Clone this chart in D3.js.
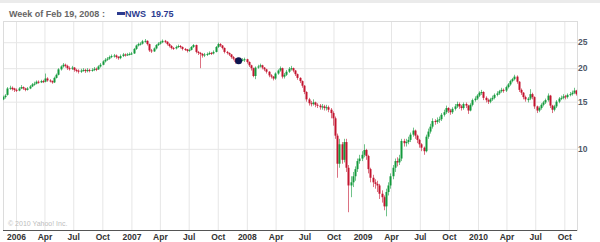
<!DOCTYPE html>
<html lang="en">
  <head>
    <style>
      body { margin: 0; background: #fff; }
      text { font-family: "Liberation Sans", Arial, sans-serif; }
      .xlab text { font-size: 8.5px; font-weight: bold; fill: #333; }
      .ylab text { font-size: 8.5px; font-weight: bold; fill: #4f5868; }
      .grid line { stroke: #e6e6e6; }
      .grid path, .xlab path, .ylab path { display: none; }
    </style>
    <script src="https://d3js.org/d3.v7.min.js"></script>
  </head>
  <body>
    <svg width="600" height="242"></svg>
    <script>
      // weekly candles, first one is the week of Nov 21 2005
      const firstWeek = "2005-11-21";
      // [open, high, low, close]
      const ohlc = [
        [15.3,15.8,15.2,15.6],[15.6,16.0,15.4,15.8],[15.9,17.0,15.8,16.8],[16.8,17.2,16.6,16.9],[16.9,17.1,16.5,16.7],
        [16.8,16.9,16.3,16.6],[16.6,16.8,16.3,16.5],[16.5,17.0,16.4,16.8],[16.8,17.3,16.7,17.0],[17.0,17.1,16.6,16.8],
        [16.8,16.9,16.4,16.6],[16.6,17.0,16.5,16.8],[16.8,17.3,16.7,17.1],[17.1,17.6,17.0,17.4],[17.4,17.8,17.2,17.5],
        [17.5,18.0,17.4,17.8],[17.8,18.0,17.5,17.7],[17.7,18.1,17.6,17.9],[17.9,18.1,17.6,17.8],[17.8,19.1,17.7,18.3],
        [18.3,18.5,17.8,18.0],[18.0,18.2,17.7,17.9],[17.9,18.0,17.5,17.7],[17.7,18.6,17.6,18.4],[18.4,19.1,18.3,18.9],
        [18.9,20.0,18.8,19.8],[19.8,20.5,19.6,20.3],[20.3,20.9,20.1,20.6],[20.6,20.8,20.1,20.4],[20.4,20.6,19.7,20.0],
        [20.0,20.3,19.6,19.9],[19.9,20.4,19.7,20.1],[20.1,20.2,19.4,19.7],[19.7,19.9,19.3,19.6],[19.6,19.8,19.1,19.4],
        [19.4,19.9,19.2,19.6],[19.6,20.0,19.4,19.7],[19.7,19.9,19.2,19.5],[19.5,20.0,19.3,19.7],[19.7,19.9,19.3,19.6],
        [19.6,20.0,19.4,19.7],[19.7,20.2,19.5,19.9],[19.9,20.1,19.5,19.8],[19.8,20.5,19.7,20.3],[20.3,20.9,20.1,20.6],
        [20.6,21.4,20.5,21.2],[21.2,21.8,21.0,21.5],[21.5,22.0,21.3,21.7],[21.7,22.3,21.5,22.0],[22.0,22.5,21.8,22.2],
        [22.2,22.6,21.9,22.3],[22.3,22.5,21.7,22.0],[22.0,22.2,21.5,21.8],[21.8,22.5,21.6,22.2],[22.2,22.8,22.0,22.5],
        [22.5,22.7,22.1,22.4],[22.4,22.8,22.2,22.5],[22.5,22.9,22.3,22.6],[22.6,23.0,22.4,22.7],[22.7,23.8,22.6,23.6],
        [23.6,24.5,23.4,24.3],[24.3,24.9,24.1,24.6],[24.6,25.0,24.3,24.7],[24.7,25.5,24.5,25.2],[25.2,25.7,24.9,25.3],
        [25.3,25.4,24.3,24.6],[24.6,24.7,23.0,23.3],[23.3,23.6,22.8,23.1],[23.1,23.9,23.0,23.7],[23.7,24.6,23.5,24.4],
        [24.4,25.0,24.2,24.7],[24.7,25.3,24.5,25.0],[25.0,25.6,24.8,25.3],[25.3,25.5,24.8,25.1],[25.1,25.2,24.3,24.6],
        [24.6,24.8,23.9,24.2],[24.2,24.4,23.5,23.8],[23.8,24.0,23.4,23.7],[23.7,24.3,23.5,24.0],[24.0,24.5,23.8,24.2],
        [24.2,24.4,23.7,24.0],[24.0,24.1,23.3,23.6],[23.6,23.8,23.2,23.5],[23.5,23.6,22.9,23.2],[23.2,23.7,23.0,23.4],
        [23.4,24.2,23.3,24.0],[24.0,24.6,23.8,24.4],[24.4,24.5,22.7,23.0],[23.0,23.2,22.4,22.8],[22.8,23.0,20.0,22.6],
        [22.6,22.8,21.9,22.3],[22.3,22.8,22.0,22.5],[22.5,22.9,22.2,22.6],[22.6,23.1,22.4,22.8],[22.8,23.0,22.4,22.7],
        [22.7,23.3,22.5,23.0],[23.0,24.2,22.9,24.0],[24.0,24.9,23.8,24.6],[24.6,24.8,24.0,24.3],[24.3,24.4,23.5,23.8],
        [23.8,23.9,22.7,23.0],[23.0,23.2,22.5,22.8],[22.8,22.9,22.2,22.5],[22.5,22.6,21.7,22.0],[22.0,22.2,21.4,21.7],
        [21.7,21.8,20.8,21.1],[21.1,21.6,20.9,21.3],[21.3,21.7,21.1,21.4],[21.4,21.8,21.2,21.5],[21.5,21.9,21.1,21.6],
        [21.6,21.7,20.8,21.1],[21.1,21.2,20.2,20.5],[20.5,20.6,19.6,20.0],[20.0,20.1,18.5,18.7],[18.7,20.3,18.2,20.1],
        [20.1,20.6,19.9,20.3],[20.3,20.8,20.1,20.5],[20.5,20.6,19.8,20.1],[20.1,20.2,19.5,19.8],[19.8,19.9,19.1,19.4],
        [19.4,19.5,18.5,18.8],[18.8,19.0,18.3,18.6],[18.6,18.7,18.0,18.3],[18.3,19.3,18.1,19.1],[19.1,19.8,18.9,19.6],
        [19.6,20.3,19.4,20.0],[20.0,20.1,18.3,18.6],[18.6,19.2,18.3,18.9],[18.9,19.7,18.7,19.4],[19.4,20.2,19.2,19.9],
        [19.9,20.4,19.6,20.0],[20.0,20.1,19.3,19.6],[19.6,19.7,18.7,19.0],[19.0,19.1,18.1,18.4],[18.4,18.5,17.6,17.9],
        [17.9,18.0,16.9,17.2],[17.2,17.3,16.0,16.3],[16.3,16.4,15.0,15.3],[15.3,15.5,14.5,14.8],[14.8,15.1,14.4,14.7],
        [14.7,15.3,14.5,14.9],[14.9,15.0,14.3,14.6],[14.6,14.8,14.2,14.5],[14.5,14.7,14.0,14.3],[14.3,14.7,14.0,14.4],
        [14.4,14.6,13.9,14.2],[14.2,14.6,13.9,14.3],[14.3,14.5,13.7,14.0],[14.0,14.2,13.0,13.6],[13.6,13.8,12.2,13.0],
        [13.0,13.2,10.9,11.2],[11.2,11.4,7.8,8.8],[8.8,10.9,8.5,10.4],[10.4,10.6,8.8,9.1],[9.1,10.9,8.9,10.6],
        [10.6,10.9,8.2,8.5],[8.5,8.7,5.8,7.3],[7.3,7.9,6.6,7.5],[7.5,8.2,7.2,7.9],[7.9,8.6,7.6,8.4],
        [8.4,9.2,8.2,9.0],[9.0,9.5,8.8,9.2],[9.2,9.8,9.0,9.5],[9.5,10.4,9.3,9.9],[9.9,10.0,9.1,9.4],
        [9.4,9.5,8.1,8.4],[8.4,8.5,7.5,7.8],[7.8,8.0,7.2,7.5],[7.5,7.7,7.1,7.4],[7.4,7.6,6.9,7.3],
        [7.3,7.4,6.5,6.8],[6.8,7.0,6.3,6.6],[6.6,6.7,5.9,6.1],[6.1,7.1,5.6,6.9],[6.9,7.5,6.7,7.3],
        [7.3,8.1,7.1,7.9],[7.9,8.7,7.7,8.5],[8.5,9.2,8.2,9.0],[9.0,9.3,8.6,8.9],[8.9,9.5,8.7,9.2],
        [9.2,10.9,9.0,10.7],[10.7,10.9,10.2,10.5],[10.5,10.9,10.2,10.6],[10.6,11.1,10.4,10.8],[10.8,11.5,10.6,11.3],
        [11.3,12.0,11.1,11.7],[11.7,11.8,10.9,11.2],[11.2,11.3,10.5,10.8],[10.8,10.9,10.1,10.4],[10.4,10.5,9.8,10.1],
        [10.1,10.2,9.5,9.8],[9.8,11.3,9.7,11.1],[11.1,11.9,10.9,11.6],[11.6,12.4,11.4,12.1],[12.1,13.0,11.9,12.7],
        [12.7,12.9,12.3,12.6],[12.6,13.1,12.4,12.8],[12.8,13.2,12.5,12.9],[12.9,13.6,12.7,13.4],[13.4,14.0,13.2,13.7],
        [13.7,14.5,13.5,14.2],[14.2,14.3,13.6,13.9],[13.9,14.1,13.4,13.7],[13.7,14.3,13.5,14.1],[14.1,14.7,13.9,14.4],
        [14.4,15.0,14.2,14.7],[14.7,14.9,14.1,14.4],[14.4,14.6,13.9,14.2],[14.2,14.9,14.0,14.7],[14.7,14.9,14.2,14.5],
        [14.5,14.6,13.5,13.9],[13.9,14.8,13.8,14.6],[14.6,15.4,14.4,15.2],[15.2,15.7,15.0,15.4],[15.4,16.0,15.2,15.8],
        [15.8,16.4,15.6,16.2],[16.2,16.6,15.9,16.3],[16.3,16.4,15.2,15.5],[15.5,15.7,14.9,15.2],[15.2,15.4,14.7,15.0],
        [15.0,15.5,14.8,15.3],[15.3,15.8,15.1,15.5],[15.5,16.1,15.3,15.9],[15.9,16.4,15.7,16.1],[16.1,16.6,15.9,16.4],
        [16.4,16.9,16.2,16.6],[16.6,16.8,16.2,16.5],[16.5,17.2,16.3,17.0],[17.0,17.6,16.8,17.4],[17.4,18.1,17.2,17.9],
        [17.9,18.4,17.7,18.2],[18.2,18.9,18.0,18.6],[18.6,18.8,17.5,17.8],[17.8,17.9,16.3,16.6],[16.6,16.8,15.9,16.2],
        [16.2,16.3,15.3,15.6],[15.6,15.8,15.0,15.3],[15.2,15.6,14.9,15.4],[15.4,16.7,15.2,16.0],[16.0,16.2,15.3,15.6],
        [15.6,15.7,14.1,14.4],[14.4,14.5,13.6,13.9],[13.9,14.4,13.7,14.2],[14.2,14.8,14.0,14.6],[14.6,15.1,14.4,14.9],
        [14.9,15.4,14.7,15.2],[15.2,16.1,15.0,15.8],[15.8,15.9,14.2,14.5],[14.5,14.6,13.6,14.0],[14.0,14.6,13.8,14.4],
        [14.4,15.2,14.2,15.0],[15.0,15.6,14.8,15.4],[15.4,15.8,15.2,15.5],[15.5,16.0,15.3,15.7],[15.7,15.9,15.3,15.6],
        [15.6,16.1,15.4,15.9],[15.9,16.3,15.7,16.0],[16.0,16.5,15.8,16.2],[16.2,16.9,16.0,16.5],[16.5,16.6,15.8,16.0]
      ];
      const xTickLabels = ["2006","Apr","Jul","Oct","2007","Apr","Jul","Oct","2008","Apr","Jul","Oct",
                           "2009","Apr","Jul","Oct","2010","Apr","Jul","Oct"];
      const yTickValues = [10, 15, 20, 25];
      const headerDate = "Week of Feb 19, 2008 :";
      const symbol = "NWS";
      const symbolValue = "19.75";
      const markerWeek = "2007-12-06";
      const markerValue = 21.3;

      const svg = d3.select("svg");
      const plotLeft = 3, plotRight = 577, plotTop = 21, plotBottom = 230;

      const x = d3.scaleUtc()
        .domain([new Date("2006-01-01"), new Date("2010-01-01")])
        .range([16, 478]);
      const y = d3.scaleLog().domain([5, 30]).range([229.5, plotTop]);

      const start = new Date(firstWeek);
      const data = ohlc.map(function (d, i) {
        return { date: d3.utcDay.offset(start, 7 * i), o: d[0], h: d[1], l: d[2], c: d[3] };
      });
      const tickDates = d3.utcMonth.every(3).range(new Date("2006-01-01"), new Date("2010-11-01"));

      // header strip
      svg.append("rect").attr("width", 600).attr("height", 242).attr("fill", "#fff");
      svg.append("rect").attr("width", 600).attr("height", 3).attr("fill", "#ebebeb");

      svg.append("text").attr("x", 9).attr("y", 17)
        .attr("font-size", 9).attr("font-weight", "bold").attr("fill", "#666")
        .text(headerDate);
      svg.append("rect").attr("x", 117).attr("y", 12).attr("width", 8).attr("height", 3).attr("fill", "#2c3b8f");
      svg.append("text").attr("x", 125).attr("y", 17)
        .attr("font-size", 9).attr("font-weight", "bold").attr("fill", "#2c3b8f")
        .attr("xml:space", "preserve")
        .text(symbol + "  " + symbolValue);

      // grid
      svg.append("g").attr("class", "grid")
        .attr("transform", "translate(0," + plotBottom + ")")
        .call(d3.axisBottom(x).tickValues(tickDates).tickSize(-(plotBottom - plotTop)).tickFormat(""));
      svg.append("g").attr("class", "grid")
        .attr("transform", "translate(" + plotRight + ",0)")
        .call(d3.axisLeft(y).tickValues(yTickValues).tickSize(plotRight - plotLeft).tickFormat(""));

      svg.append("rect")
        .attr("x", plotLeft + 0.5).attr("y", plotTop + 0.5)
        .attr("width", plotRight - plotLeft).attr("height", plotBottom - plotTop)
        .attr("fill", "none").attr("stroke", "#dcdcdc");

      svg.append("text").attr("x", 8).attr("y", 226)
        .attr("font-size", 7).attr("fill", "#bdbdbd")
        .text("\u00a9 2010 Yahoo! Inc.");

      // candles
      svg.append("clipPath").attr("id", "plot")
        .append("rect").attr("x", plotLeft).attr("y", plotTop)
        .attr("width", plotRight - plotLeft).attr("height", plotBottom - plotTop);
      const g = svg.append("g").attr("clip-path", "url(#plot)");
      const green = "#139a3c", red = "#c3142f";

      g.selectAll(".wick").data(data).enter().append("line")
        .attr("x1", function (d) { return Math.round(x(d.date)) + 0.5; })
        .attr("x2", function (d) { return Math.round(x(d.date)) + 0.5; })
        .attr("y1", function (d) { return y(d.h); })
        .attr("y2", function (d) { return y(d.l); })
        .attr("stroke", function (d) { return d.c >= d.o ? green : red; })
        .attr("stroke-opacity", 0.6);

      g.selectAll(".body").data(data).enter().append("rect")
        .attr("x", function (d) { return Math.round(x(d.date)) - 0.5; })
        .attr("width", 2)
        .attr("y", function (d) { return y(Math.max(d.o, d.c)); })
        .attr("height", function (d) { return Math.max(1, Math.abs(y(d.o) - y(d.c))); })
        .attr("fill", function (d) { return d.c >= d.o ? green : red; });

      g.append("circle")
        .attr("cx", x(new Date(markerWeek))).attr("cy", y(markerValue))
        .attr("r", 3.5).attr("fill", "#0d1650");

      // axes
      svg.append("line")
        .attr("x1", plotLeft).attr("x2", plotRight)
        .attr("y1", plotBottom + 0.5).attr("y2", plotBottom + 0.5)
        .attr("stroke", "#555");

      svg.append("g").attr("class", "xlab")
        .attr("transform", "translate(0," + plotBottom + ")")
        .call(d3.axisBottom(x).tickValues(tickDates).tickSize(0).tickPadding(4)
          .tickFormat(function (d, i) { return xTickLabels[i]; }));

      svg.append("g").attr("class", "ylab")
        .attr("transform", "translate(" + plotRight + ",0)")
        .call(d3.axisRight(y).tickValues(yTickValues).tickSize(0).tickPadding(1)
          .tickFormat(d3.format("d")));
    </script>
  </body>
</html>
